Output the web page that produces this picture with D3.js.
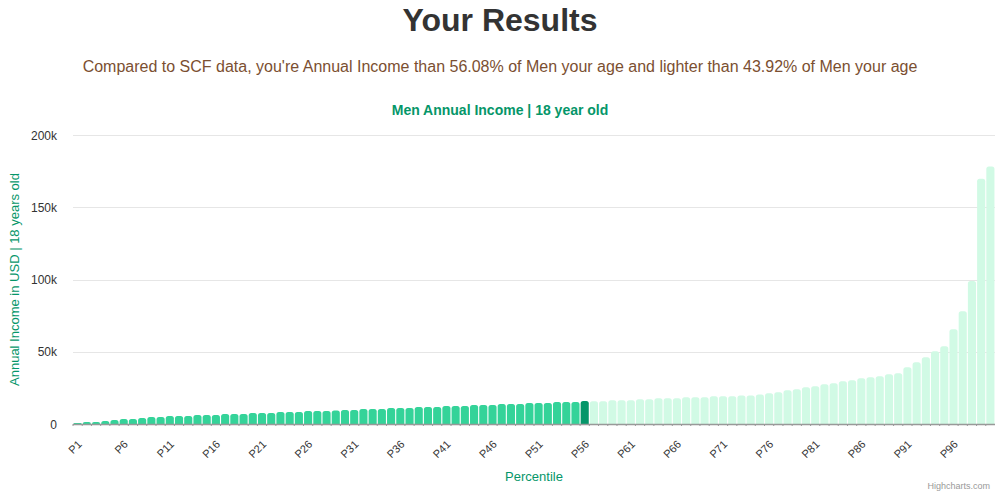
<!DOCTYPE html>
<html>
<head>
<meta charset="utf-8">
<script src="https://cdn.jsdelivr.net/npm/d3@7"></script>
<style>
  html, body { margin: 0; padding: 0; background: #fff; }
  svg { display: block; font-family: "Liberation Sans", Arial, Helvetica, sans-serif; }
</style>
</head>
<body>
<svg id="chart" width="1000" height="495"></svg>
<script>
// ---- data ----
const categories = d3.range(1, 101).map(i => "P" + i);
const incomeValues = [
  700, 1400, 1400, 2100, 2800, 3500, 3500, 4200, 4800, 4800,
  5500, 5500, 5500, 6200, 6200, 6200, 6900, 6900, 6900, 7600,
  7600, 7600, 8300, 8300, 8300, 9000, 9000, 9000, 9300, 9700,
  9700, 10400, 10400, 10400, 11100, 11100, 11100, 11800, 11800, 11800,
  12500, 12500, 12500, 13200, 13200, 13200, 13800, 13800, 13800, 14500,
  14500, 14500, 15200, 15200, 15200, 15900, 15700, 15700, 16400, 16400,
  16400, 17100, 17100, 17800, 17800, 17800, 18500, 18500, 18500, 19200,
  19200, 19200, 19800, 19800, 20500, 21200, 21900, 23300, 24000, 25400,
  26200, 27500, 28200, 29500, 30200, 31600, 32300, 33000, 34400, 35100,
  39200, 42700, 46200, 50300, 53800, 65500, 78000, 99000, 169700, 178200
];
const userPercentile = "P56";
const xTickLabels = ["P1","P6","P11","P16","P21","P26","P31","P36","P41","P46","P51","P56","P61","P66","P71","P76","P81","P86","P91","P96"];
const yTickValues = [0, 50000, 100000, 150000, 200000];
const yTickLabels = ["0", "50k", "100k", "150k", "200k"];

const titleText = "Your Results";
const subtitleText = "Compared to SCF data, you're Annual Income than 56.08% of Men your age and lighter than 43.92% of Men your age";
const chartTitleText = "Men Annual Income | 18 year old";
const yAxisTitle = "Annual Income in USD | 18 years old";
const xAxisTitle = "Percentile";

// ---- layout ----
const svg = d3.select("#chart");
const W = 1000, H = 495;
const plot = { left: 73, right: 995, top: 135, bottom: 424 };

const COL_BEFORE = "#34d399";
const COL_USER = "#059669";
const COL_AFTER = "#d1fae5";
const GREEN_TEXT = "#059669";

const x = d3.scaleBand().domain(categories).range([plot.left, plot.right]).paddingInner(0.12).paddingOuter(0.06);
const y = d3.scaleLinear().domain([0, 200000]).range([plot.bottom, plot.top]);

// titles
svg.append("text").attr("x", W / 2).attr("y", 31).attr("text-anchor", "middle")
  .attr("font-size", 32).attr("font-weight", "bold").attr("fill", "#333333").text(titleText);
svg.append("text").attr("x", W / 2).attr("y", 72).attr("text-anchor", "middle")
  .attr("font-size", 16).attr("fill", "#7b4f31").text(subtitleText);
svg.append("text").attr("x", W / 2).attr("y", 115).attr("text-anchor", "middle")
  .attr("font-size", 14).attr("font-weight", "bold").attr("fill", GREEN_TEXT).text(chartTitleText);

// gridlines
svg.append("g").selectAll("line").data(yTickValues.filter(v => v > 0)).join("line")
  .attr("x1", plot.left).attr("x2", plot.right)
  .attr("y1", d => Math.round(y(d)) + 0.5).attr("y2", d => Math.round(y(d)) + 0.5)
  .attr("stroke", "#e6e6e6").attr("stroke-width", 1);

// y axis labels
const yAxis = d3.axisLeft(y).tickValues(yTickValues).tickSize(0).tickPadding(0)
  .tickFormat((d, i) => yTickLabels[i]);
const gy = svg.append("g").attr("transform", `translate(${plot.left - 16},0)`).call(yAxis);
gy.select(".domain").remove();
gy.selectAll("text").attr("font-size", 12).attr("fill", "#333333")
  .attr("font-family", "\"Liberation Sans\", Arial, sans-serif").attr("dy", "0.35em");

// y axis title
svg.append("text").attr("transform", `translate(19,${(plot.top + plot.bottom) / 2}) rotate(-90)`)
  .attr("text-anchor", "middle").attr("font-size", 13).attr("fill", GREEN_TEXT).text(yAxisTitle);

// bars with rounded tops
const r = 2.5;
function barPath(d, i) {
  const x0 = x(categories[i]), w = x.bandwidth();
  const y0 = y(d), yb = y(0);
  const rr = Math.min(r, (yb - y0));
  return `M${x0},${yb} L${x0},${y0 + rr} Q${x0},${y0} ${x0 + rr},${y0} L${x0 + w - rr},${y0} Q${x0 + w},${y0} ${x0 + w},${y0 + rr} L${x0 + w},${yb} Z`;
}
const userIdx = categories.indexOf(userPercentile);
svg.append("g").selectAll("path").data(incomeValues).join("path")
  .attr("d", barPath)
  .attr("fill", (d, i) => i < userIdx ? COL_BEFORE : (i === userIdx ? COL_USER : COL_AFTER));

// x axis
const xAxis = d3.axisBottom(x).tickValues(xTickLabels).tickSize(0).tickPadding(0);
const gx = svg.append("g").attr("transform", `translate(0,${plot.bottom})`).call(xAxis);
gx.select(".domain").remove();
gx.selectAll("text")
  .attr("font-size", 11).attr("fill", "#333333")
  .attr("font-family", "\"Liberation Sans\", Arial, sans-serif")
  .attr("text-anchor", "end").attr("dy", null).attr("y", 0)
  .attr("transform", "translate(5,21) rotate(-45)");

// axis line
svg.append("line").attr("x1", plot.left).attr("x2", plot.right)
  .attr("y1", plot.bottom + 0.5).attr("y2", plot.bottom + 0.5)
  .attr("stroke", "#999999").attr("stroke-width", 1.5);
// small ticks between categories
svg.append("g").selectAll("line").data(categories).join("line")
  .attr("x1", d => x(d) - x.step() * x.paddingInner() / 2)
  .attr("x2", d => x(d) - x.step() * x.paddingInner() / 2)
  .attr("y1", plot.bottom).attr("y2", plot.bottom + 2)
  .attr("stroke", "#999999").attr("stroke-width", 1);

// x axis title
svg.append("text").attr("x", (plot.left + plot.right) / 2).attr("y", 481)
  .attr("text-anchor", "middle").attr("font-size", 13).attr("fill", GREEN_TEXT).text(xAxisTitle);

// credits
svg.append("text").attr("x", 990).attr("y", 489).attr("text-anchor", "end")
  .attr("font-size", 9).attr("fill", "#999999").text("Highcharts.com");
</script>
</body>
</html>
